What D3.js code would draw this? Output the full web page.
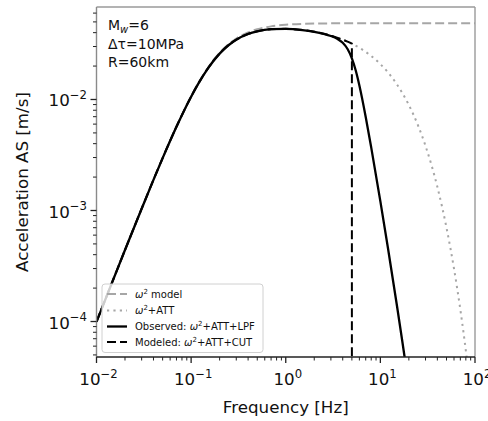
<!DOCTYPE html>
<html>
<head>
<meta charset="utf-8">
<script src="https://cdn.jsdelivr.net/npm/d3@7"></script>
<style>
  html, body { margin: 0; padding: 0; background: #fff; }
  svg { display: block; font-family: "DejaVu Sans", sans-serif; }
</style>
</head>
<body>
<svg id="chart" width="488" height="421"></svg>
<script>
// ---------------- data ----------------
const xDomain = [0.01, 100];
const yDomain = [4.79e-5, 6.81e-2];
const xTickExps = [-2, -1, 0, 1, 2];
const yTickExps = [-4, -3, -2];

const freq = [0.01, 0.015, 0.02, 0.03, 0.04, 0.05, 0.07, 0.1, 0.12, 0.15, 0.2, 0.25, 0.3, 0.4, 0.5, 0.7,
  1, 1.5, 2, 3, 4, 5, 6, 7, 8, 10, 12, 15, 20, 25, 30, 40, 50, 60, 70, 80, 90, 100];
const omega2Model = [9.96e-5, 2.382e-4, 4.410e-4, 1.041e-3, 1.894e-3, 2.979e-3, 5.717e-3, 1.069e-2, 1.419e-2,
  1.923e-2, 2.632e-2, 3.163e-2, 3.545e-2, 4.027e-2, 4.295e-2, 4.557e-2, 4.710e-2, 4.797e-2, 4.828e-2,
  4.849e-2, 4.857e-2, 4.860e-2, 4.861e-2, 4.863e-2, 4.864e-2, 4.867e-2, 4.867e-2, 4.867e-2, 4.867e-2, 4.867e-2,
  4.867e-2, 4.867e-2, 4.867e-2, 4.867e-2, 4.867e-2, 4.867e-2, 4.867e-2, 4.867e-2];
const omega2Att = [9.95e-5, 2.378e-4, 4.404e-4, 1.038e-3, 1.887e-3, 2.966e-3, 5.683e-3, 1.060e-2, 1.404e-2,
  1.899e-2, 2.588e-2, 3.097e-2, 3.457e-2, 3.894e-2, 4.117e-2, 4.295e-2, 4.328e-2, 4.223e-2, 4.072e-2,
  3.758e-2, 3.458e-2, 3.180e-2, 2.921e-2, 2.685e-2, 2.467e-2, 2.082e-2, 1.757e-2, 1.362e-2, 8.917e-3,
  5.833e-3, 3.816e-3, 1.633e-3, 6.985e-4, 2.992e-4, 1.280e-4, 5.479e-5, 2.346e-5, 1.001e-5];

const observedFreq = [0.01, 0.015, 0.02, 0.03, 0.04, 0.05, 0.07, 0.1, 0.12, 0.15, 0.2, 0.25, 0.3, 0.4, 0.5, 0.7,
  1, 1.5, 2, 2.5, 3, 3.5, 4, 4.5, 5, 5.5, 6, 7, 8, 10, 12, 15, 17, 18, 20];
const observed = [9.95e-5, 2.378e-4, 4.404e-4, 1.038e-3, 1.887e-3, 2.966e-3, 5.683e-3, 1.060e-2, 1.404e-2,
  1.899e-2, 2.588e-2, 3.097e-2, 3.457e-2, 3.894e-2, 4.117e-2, 4.295e-2, 4.328e-2, 4.223e-2, 4.070e-2,
  3.908e-2, 3.733e-2, 3.524e-2, 3.243e-2, 2.850e-2, 2.348e-2, 1.814e-2, 1.338e-2, 6.967e-3, 3.703e-3,
  1.208e-3, 4.642e-4, 1.373e-4, 6.749e-5, 4.839e-5, 2.588e-5];

const modeledFreq = [0.01, 0.015, 0.02, 0.03, 0.04, 0.05, 0.07, 0.1, 0.12, 0.15, 0.2, 0.25, 0.3, 0.4, 0.5, 0.7,
  1, 1.5, 2, 3, 4, 4.5, 5];
const modeled = [9.95e-5, 2.378e-4, 4.404e-4, 1.038e-3, 1.887e-3, 2.966e-3, 5.683e-3, 1.060e-2, 1.404e-2,
  1.899e-2, 2.588e-2, 3.097e-2, 3.457e-2, 3.894e-2, 4.117e-2, 4.295e-2, 4.328e-2, 4.223e-2, 4.072e-2,
  3.758e-2, 3.458e-2, 3.316e-2, 3.180e-2];
const cutFreq = 5;
const cutFloor = 1e-6;

const annotationLines = ["Mw=6", "Δτ=10MPa", "R=60km"];
const legendLabels = ["model", "+ATT", "+ATT+LPF", "+ATT+CUT"];
const legendPrefixes = ["", "", "Observed: ", "Modeled: "];

// ---------------- layout ----------------
const svg = d3.select("#chart");
const L = 96.5, R = 475, T = 7, B = 357;
const x = d3.scaleLog().domain(xDomain).range([L, R]);
const y = d3.scaleLog().domain(yDomain).range([B, T]);

const GRAY = "#a6a6a6";
const styles = {
  model: { stroke: GRAY, width: 2, dash: "9,4" },
  att:   { stroke: GRAY, width: 2, dash: "2.2,4.2" },
  obs:   { stroke: "#000", width: 2.3, dash: null },
  mod:   { stroke: "#000", width: 2, dash: "9,4" }
};

svg.append("defs").append("clipPath").attr("id", "clip")
  .append("rect").attr("x", L).attr("y", T).attr("width", R - L).attr("height", B - T);

const line = d3.line().x(d => x(d[0])).y(d => y(d[1])).curve(d3.curveMonotoneX);
const plot = svg.append("g").attr("clip-path", "url(#clip)");

function drawPath(d, st) {
  const p = plot.append("path").attr("d", d).attr("fill", "none")
    .attr("stroke", st.stroke).attr("stroke-width", st.width)
    .attr("stroke-linejoin", "round");
  if (st.dash) p.attr("stroke-dasharray", st.dash);
  return p;
}
drawPath(line(d3.zip(freq, omega2Model)), styles.model);
drawPath(line(d3.zip(freq, omega2Att)), styles.att).attr("stroke-linecap", "butt");
drawPath(line(d3.zip(observedFreq, observed)), styles.obs);
drawPath(line(d3.zip(modeledFreq, modeled)) + "L" + x(cutFreq) + "," + y(cutFloor), styles.mod);

// ---------------- spines ----------------
svg.append("line").attr("x1", L).attr("x2", R).attr("y1", T).attr("y2", T).attr("stroke", "#9a9a9a").attr("stroke-width", 1.4);
svg.append("line").attr("x1", R).attr("x2", R).attr("y1", T).attr("y2", B).attr("stroke", "#9a9a9a").attr("stroke-width", 1.4);
svg.append("line").attr("x1", L).attr("x2", L).attr("y1", T).attr("y2", B).attr("stroke", "#8a8a8a").attr("stroke-width", 1.4);
svg.append("line").attr("x1", L).attr("x2", R).attr("y1", B).attr("y2", B).attr("stroke", "#222").attr("stroke-width", 1.4);

// ---------------- ticks ----------------
const ticksG = svg.append("g").attr("stroke", "#222");
function minorTicks(domain) {
  const out = [];
  const e0 = Math.floor(Math.log10(domain[0])), e1 = Math.ceil(Math.log10(domain[1]));
  for (let e = e0; e <= e1; e++) for (let k = 2; k <= 9; k++) {
    const v = k * Math.pow(10, e);
    if (v >= domain[0] && v <= domain[1]) out.push(v);
  }
  return out;
}
xTickExps.forEach(e => {
  const px = x(Math.pow(10, e));
  ticksG.append("line").attr("x1", px).attr("x2", px).attr("y1", B).attr("y2", B + 6).attr("stroke-width", 1.3);
});
minorTicks(xDomain).forEach(v => {
  const px = x(v);
  ticksG.append("line").attr("x1", px).attr("x2", px).attr("y1", B).attr("y2", B + 3.5).attr("stroke-width", 1);
});
yTickExps.forEach(e => {
  const py = y(Math.pow(10, e));
  ticksG.append("line").attr("x1", L - 6).attr("x2", L).attr("y1", py).attr("y2", py).attr("stroke-width", 1.3);
});
minorTicks(yDomain).forEach(v => {
  const py = y(v);
  ticksG.append("line").attr("x1", L - 3.5).attr("x2", L).attr("y1", py).attr("y2", py).attr("stroke-width", 1);
});

// ---------------- tick labels ----------------
const FS = 16.7;
function powLabel(g, e, px, py, anchor) {
  const t = g.append("text").attr("x", px).attr("y", py).attr("text-anchor", anchor)
    .attr("font-size", FS).attr("fill", "#111");
  t.append("tspan").text("10");
  t.append("tspan").attr("dy", -7.5).attr("font-size", 11.7).text(String(e).replace("-", "\u2212"));
}
xTickExps.forEach(e => powLabel(svg, e, x(Math.pow(10, e)) + 2, 385, "middle"));
yTickExps.forEach(e => powLabel(svg, e, 87, y(Math.pow(10, e)) + 7, "end"));

// axis labels
svg.append("text").attr("x", (L + R) / 2).attr("y", 413).attr("text-anchor", "middle")
  .attr("font-size", FS).attr("fill", "#111").text("Frequency [Hz]");
svg.append("text").attr("transform", `translate(28,${(T + B) / 2}) rotate(-90)`).attr("text-anchor", "middle")
  .attr("font-size", FS).attr("fill", "#111").text("Acceleration AS [m/s]");

// ---------------- annotation ----------------
const ann = svg.append("g").attr("font-size", 14).attr("fill", "#111");
const a0 = ann.append("text").attr("x", 108).attr("y", 30);
a0.append("tspan").text(annotationLines[0].slice(0, 1));
a0.append("tspan").attr("dy", 3).attr("font-size", 10).attr("font-style", "italic").text(annotationLines[0].slice(1, 2));
a0.append("tspan").attr("dy", -3).text(annotationLines[0].slice(2));
ann.append("text").attr("x", 108).attr("y", 48.5).text(annotationLines[1]);
ann.append("text").attr("x", 108).attr("y", 67).text(annotationLines[2]);

// ---------------- legend ----------------
const lg = svg.append("g");
lg.append("rect").attr("x", 102).attr("y", 284).attr("width", 161).attr("height", 68.5).attr("rx", 3)
  .attr("fill", "#fff").attr("fill-opacity", 0.8).attr("stroke", "#d0d0d0").attr("stroke-width", 1);
const legStyles = [styles.model, styles.att, styles.obs, styles.mod];
const rowY = [294, 310.5, 326.5, 342];
legStyles.forEach((st, i) => {
  const l = lg.append("line").attr("x1", 107).attr("x2", 127).attr("y1", rowY[i]).attr("y2", rowY[i])
    .attr("stroke", st.stroke).attr("stroke-width", st.width);
  if (st.dash) l.attr("stroke-dasharray", st.dash);
  const t = lg.append("text").attr("x", 135).attr("y", rowY[i] + 3.5).attr("font-size", 10).attr("fill", "#111");
  if (legendPrefixes[i]) t.append("tspan").text(legendPrefixes[i]);
  t.append("tspan").attr("font-style", "italic").text("ω");
  t.append("tspan").attr("dy", -4).attr("font-size", 7).text("2");
  const rest = legendLabels[i];
  t.append("tspan").attr("dy", 4).text(rest.startsWith("+") ? rest : " " + rest);
});
</script>
</body>
</html>
